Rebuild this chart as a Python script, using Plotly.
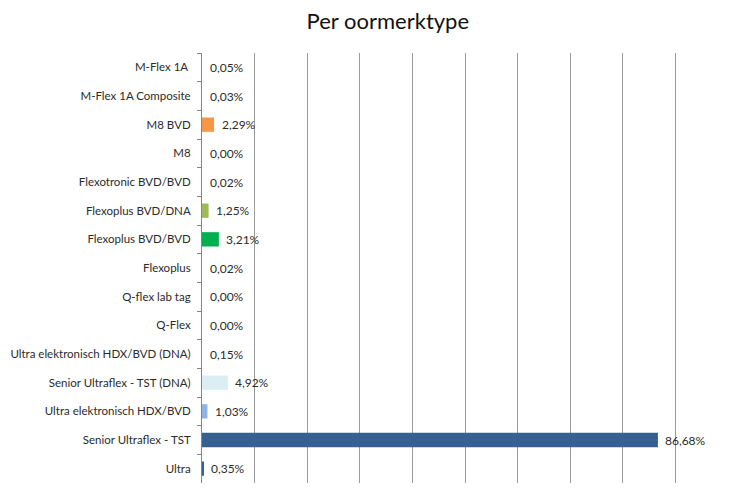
import plotly.graph_objects as go

categories = [
    "M-Flex 1A\u00a0",
    "M-Flex 1A Composite",
    "M8 BVD",
    "M8",
    "Flexotronic BVD/BVD",
    "Flexoplus BVD/DNA",
    "Flexoplus BVD/BVD",
    "Flexoplus",
    "Q-flex lab tag",
    "Q-Flex",
    "Ultra elektronisch HDX/BVD (DNA)",
    "Senior Ultraflex - TST (DNA)",
    "Ultra elektronisch HDX/BVD",
    "Senior Ultraflex - TST",
    "Ultra",
]
values = [0.05, 0.03, 2.29, 0.00, 0.02, 1.25, 3.21, 0.02, 0.00, 0.00, 0.15, 4.92, 1.03, 86.68, 0.35]
labels = ["0,05%", "0,03%", "2,29%", "0,00%", "0,02%", "1,25%", "3,21%", "0,02%",
          "0,00%", "0,00%", "0,15%", "4,92%", "1,03%", "86,68%", "0,35%"]
T = "rgba(0,0,0,0)"
colors = [T, T, "#F79646", T, T, "#9BBB59", "#00B050",
          T, T, T, T, "#DBEEF4", "#8DB4E2", "#366092", "#366092"]

FONT = "Lato, 'Open Sans', sans-serif"
TXT = "#2b2b2b"

fig = go.Figure()
fig.add_trace(go.Bar(
    x=values, y=categories, orientation="h",
    marker=dict(color=colors, line=dict(width=0)),
    width=0.5, hoverinfo="skip", showlegend=False,
))

for c, v, t in zip(categories, values, labels):
    fig.add_annotation(x=v, y=c, text=t, xref="x", yref="y", showarrow=False,
                       xanchor="left", yanchor="middle", xshift=5.5,
                       font=dict(family=FONT, size=12, color=TXT))

# page body has an 8px default margin, so the figure is sized to fit the window
fig.update_layout(
    width=739, height=486,
    margin=dict(l=194, r=19, t=45, b=11, pad=0),
    paper_bgcolor="white", plot_bgcolor="white",
    title=dict(text="Per oormerktype", x=0.514, xanchor="center", y=0.973, yanchor="middle",
               font=dict(family=FONT, size=22, color="#111111")),
    xaxis=dict(range=[0, 100], dtick=10, showgrid=True, gridcolor="#9a9a9a", gridwidth=1,
               showticklabels=False, zeroline=False, showline=False, ticks="", fixedrange=True),
    yaxis=dict(type="category", categoryorder="array", categoryarray=categories,
               autorange="reversed", showgrid=False, showline=True, linecolor="#868686",
               linewidth=1, ticks="outside", ticklen=4, tickcolor="#868686",
               tickson="boundaries", ticklabelstandoff=8, automargin=False,
               tickfont=dict(family=FONT, size=11.5, color=TXT)),
)

fig.write_html("out.html")
